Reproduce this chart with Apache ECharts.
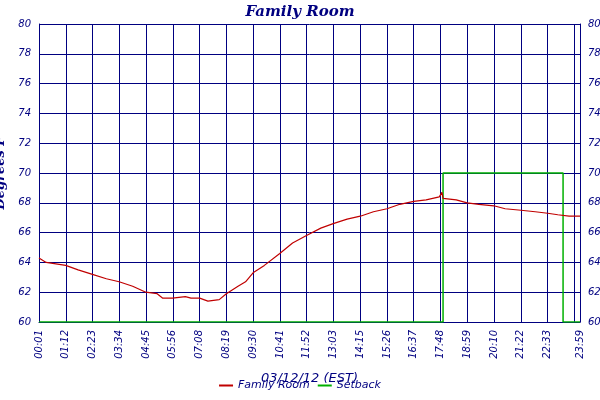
<!DOCTYPE html><html><head><meta charset="utf-8"><script src="https://cdn.jsdelivr.net/npm/echarts@6/dist/echarts.min.js"></script></head><body style="margin:0"><div id="c" style="width:600px;height:400px"></div><script>
const roomTimes=["00:01","00:20","01:12","01:45","02:23","03:00","03:34","04:10","04:45","05:15","05:30","05:56","06:30","06:45","07:08","07:30","08:00","08:19","08:50","09:10","09:30","10:00","10:41","11:15","11:52","12:30","13:03","13:40","14:15","14:50","15:26","16:00","16:37","17:10","17:45","17:52","17:55","18:30","18:59","19:30","20:10","20:40","21:22","22:00","22:33","23:00","23:30","23:59"];
const roomTemps=[64.3,64.0,63.8,63.5,63.2,62.9,62.7,62.4,62.0,61.9,61.6,61.6,61.7,61.6,61.6,61.4,61.5,61.9,62.4,62.7,63.3,63.8,64.6,65.3,65.8,66.3,66.6,66.9,67.1,67.4,67.6,67.9,68.1,68.2,68.4,68.7,68.3,68.2,68.0,67.9,67.8,67.6,67.5,67.4,67.3,67.2,67.1,67.1];
const setTimes=["00:01","17:55","23:14","23:59"];
const setVals=[60,70,60,60];
const tickLabels=["00:01","01:12","02:23","03:34","04:45","05:56","07:08","08:19","09:30","10:41","11:52","13:03","14:15","15:26","16:37","17:48","18:59","20:10","21:22","22:33","23:44"];
const toM=t=>{const[a,b]=t.split(':');return +a*60+ +b-1;};
const fmt=v=>v>=1430?'23:59':tickLabels[Math.round(v/71.15)];
const navy='#000080',font='DejaVu Sans';
const yAx=pos=>({type:'value',position:pos,min:60,max:80,interval:2,axisLine:{show:true,lineStyle:{color:navy}},axisTick:{show:false},splitLine:{show:pos==='left',lineStyle:{color:navy}},axisLabel:{color:navy,fontStyle:'italic',fontFamily:font,fontSize:10},name:pos==='left'?'Degrees F':'',nameLocation:'middle',nameGap:24,nameTextStyle:{color:navy,fontStyle:'italic',fontWeight:'bold',fontFamily:'DejaVu Serif',fontSize:13}});
const ch=echarts.init(document.getElementById('c'));
ch.setOption({backgroundColor:'#fff',animation:false,
title:{text:'Family Room',left:'center',top:0,textStyle:{color:navy,fontStyle:'italic',fontWeight:'bold',fontFamily:'DejaVu Serif',fontSize:15}},
legend:{bottom:4,itemWidth:14,itemHeight:2,icon:'rect',textStyle:{color:navy,fontStyle:'italic',fontFamily:font,fontSize:11},data:['Family Room','Setback']},
grid:{left:39,right:20,top:24,bottom:78,containLabel:false,outerBoundsMode:'none'},
xAxis:{type:'value',min:0,max:1438,interval:71.15,axisLine:{lineStyle:{color:navy}},axisTick:{show:false},splitLine:{lineStyle:{color:navy}},
axisLabel:{rotate:90,color:navy,fontStyle:'italic',fontFamily:font,fontSize:10,showMaxLabel:true,hideOverlap:false,formatter:fmt},
name:'03/12/12 (EST)',nameLocation:'middle',nameGap:50,nameTextStyle:{color:navy,fontStyle:'italic',fontFamily:font,fontSize:13}},
yAxis:[yAx('left'),yAx('right')],
series:[
{name:'Setback',type:'line',step:'end',symbol:'none',color:'#00b000',lineStyle:{width:1.5},data:setTimes.map((t,i)=>[toM(t),setVals[i]])},
{name:'Family Room',type:'line',symbol:'none',color:'#c00000',lineStyle:{width:1.2},data:roomTimes.map((t,i)=>[toM(t),roomTemps[i]])}
]});
</script></body></html>
